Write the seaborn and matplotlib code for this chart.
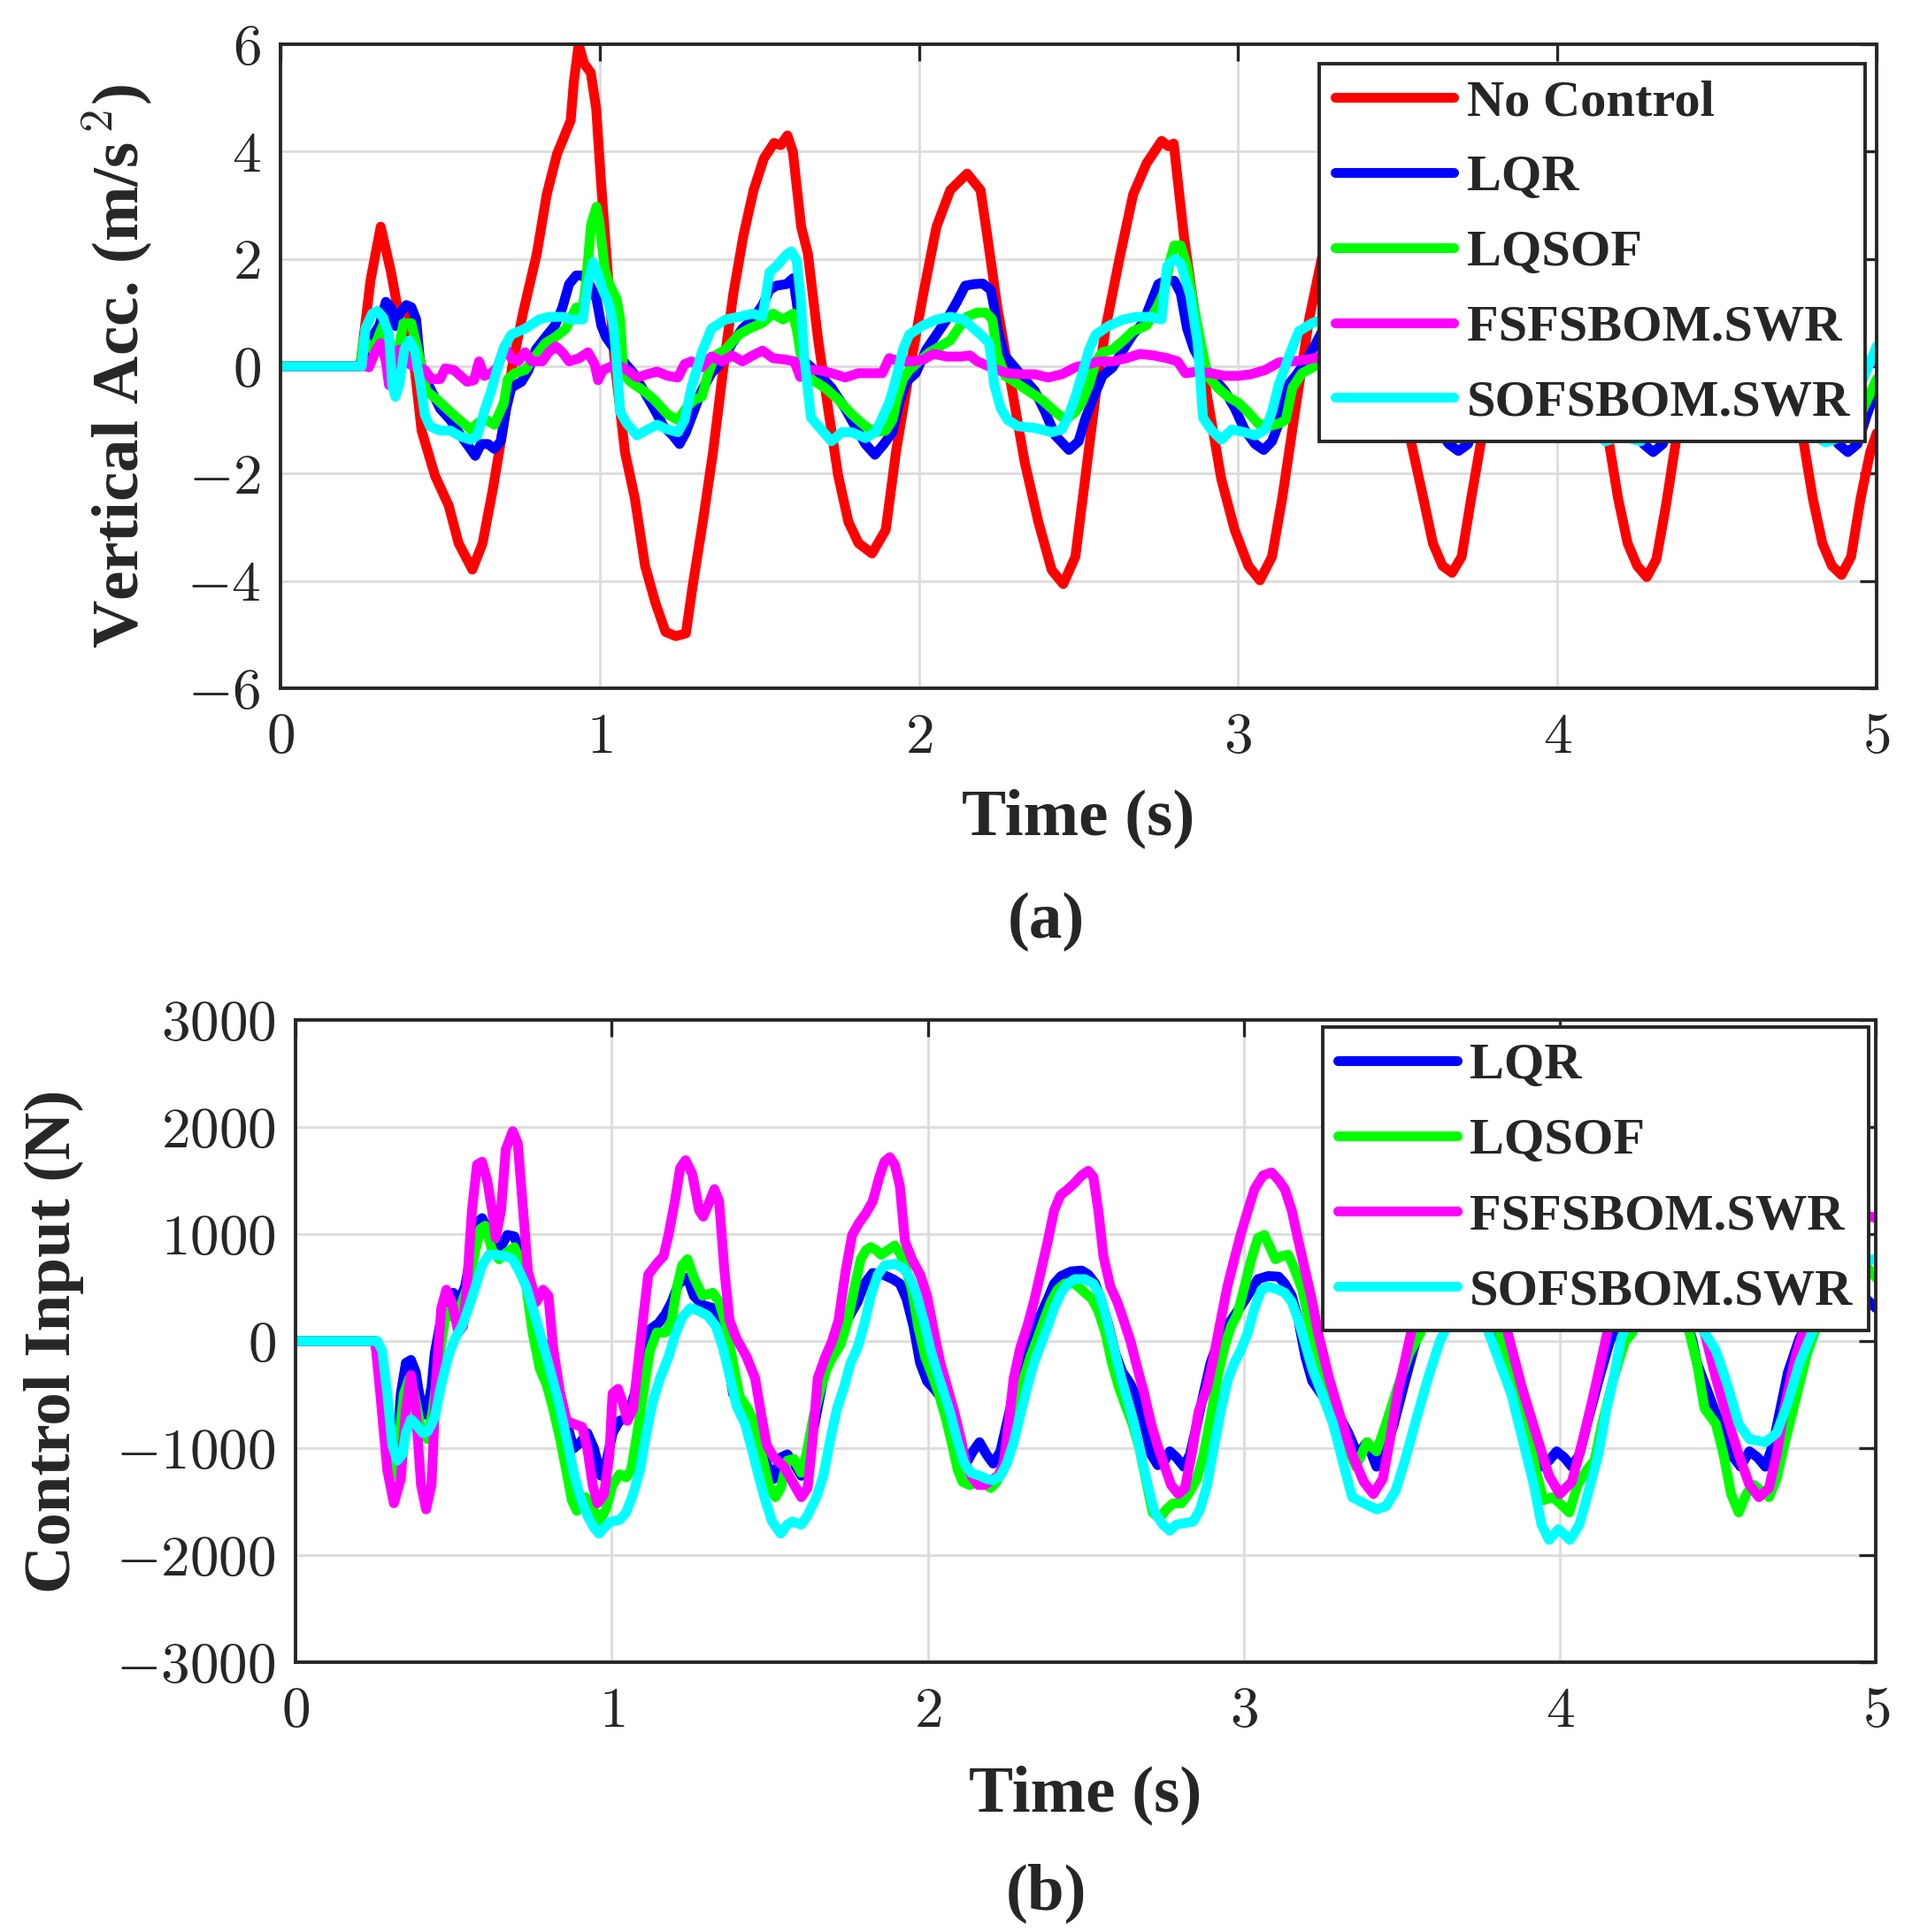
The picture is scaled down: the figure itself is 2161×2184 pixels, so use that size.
import matplotlib
matplotlib.use("Agg")
import matplotlib.pyplot as plt
import numpy as np
import pandas as pd
import seaborn as sns
from matplotlib.ticker import FuncFormatter

# (time s, vertical acceleration m/s^2)
acc_nocontrol = [(0, 0), (0.25, 0), (0.282, 1.6), (0.314, 2.6), (0.346, 1.76), (0.367, 1.08), (0.399, 1.1),
    (0.442, -1.2), (0.484, -2.04), (0.527, -2.6), (0.558, -3.3), (0.601, -3.79), (0.633, -3.3), (0.665, -2.3),
    (0.696, -1.2), (0.728, 0.07), (0.76, 1.0), (0.803, 2.1), (0.834, 3.2), (0.866, 3.95), (0.909, 4.58),
    (0.919, 5.3), (0.934, 6.0), (0.951, 5.64), (0.972, 5.47), (0.989, 4.8), (1.004, 3.44), (1.025, 1.76),
    (1.047, 0.07), (1.079, -1.6), (1.11, -2.46), (1.142, -3.72), (1.174, -4.4), (1.206, -4.95), (1.238, -5.03),
    (1.27, -4.98), (1.291, -4.1), (1.323, -2.9), (1.355, -1.6), (1.386, -0.1), (1.418, 1.33), (1.45, 2.43),
    (1.482, 3.28), (1.514, 3.87), (1.546, 4.16), (1.567, 4.12), (1.588, 4.3), (1.605, 4.0), (1.631, 2.6),
    (1.652, 2.1), (1.684, 0.5), (1.715, -0.77), (1.747, -2.04), (1.779, -2.9), (1.811, -3.3), (1.853, -3.49),
    (1.896, -3.05), (1.928, -1.6), (1.97, -0.1), (2.013, 1.33), (2.055, 2.6), (2.098, 3.28), (2.151, 3.59),
    (2.193, 3.28), (2.214, 2.43), (2.246, 1.08), (2.289, -0.35), (2.331, -1.78), (2.374, -2.9), (2.416, -3.8),
    (2.452, -4.06), (2.49, -3.55), (2.522, -2.04), (2.554, -0.52), (2.586, 0.75), (2.628, 2.0), (2.671, 3.2),
    (2.713, 3.78), (2.76, 4.2), (2.781, 4.1), (2.798, 4.15), (2.83, 2.43), (2.862, 1.08), (2.904, -0.6),
    (2.947, -2.1), (2.989, -3.05), (3.032, -3.72), (3.068, -3.99), (3.106, -3.55), (3.138, -2.46), (3.18, -0.77),
    (3.223, 0.9), (3.265, 2.1), (3.3, 3.0), (3.35, 3.8), (3.4, 4.1), (3.43, 3.9), (3.47, 1.8), (3.54, -1.37),
    (3.58, -2.46), (3.61, -3.3), (3.64, -3.72), (3.67, -3.85), (3.70, -3.55), (3.73, -2.46), (3.76, -1.43),
    (3.82, 1.0), (3.9, 3.5), (3.97, 4.1), (4.03, 3.8), (4.1, 0.5), (4.16, -1.37), (4.19, -2.46), (4.22, -3.3),
    (4.25, -3.72), (4.28, -3.93), (4.31, -3.6), (4.34, -2.6), (4.37, -1.45), (4.45, 1.5), (4.52, 3.6),
    (4.58, 4.1), (4.64, 3.5), (4.72, 0.2), (4.77, -1.37), (4.80, -2.46), (4.83, -3.3), (4.86, -3.72),
    (4.89, -3.89), (4.92, -3.55), (4.95, -2.46), (4.98, -1.6), (5.0, -1.25)]

acc_lqr = [(0, 0), (0.245, 0), (0.287, 0.54), (0.31, 0.76), (0.33, 1.2), (0.346, 1.09), (0.36, 0.75),
    (0.375, 1.0), (0.394, 1.14), (0.41, 1.1), (0.425, 0.87), (0.436, 0.15), (0.45, -0.24), (0.468, -0.4),
    (0.5, -0.79), (0.532, -1.0), (0.564, -1.29), (0.59, -1.5), (0.61, -1.67), (0.628, -1.45), (0.65, -1.45),
    (0.67, -1.54), (0.69, -1.4), (0.707, -0.79), (0.723, -0.4), (0.755, -0.29), (0.777, -0.07), (0.8, 0.31),
    (0.83, 0.54), (0.86, 0.76), (0.883, 1.09), (0.904, 1.53), (0.926, 1.69), (0.947, 1.69), (0.968, 1.53),
    (0.99, 1.25), (1.005, 0.76), (1.02, 0.54), (1.04, 0.37), (1.074, 0.09), (1.106, -0.13), (1.138, -0.46),
    (1.17, -0.79), (1.2, -1.12), (1.229, -1.29), (1.25, -1.45), (1.27, -1.23), (1.298, -0.79), (1.319, -0.46),
    (1.35, -0.13), (1.383, 0.09), (1.415, 0.43), (1.447, 0.7), (1.479, 0.87), (1.51, 1.14), (1.532, 1.42),
    (1.553, 1.5), (1.585, 1.53), (1.606, 1.64), (1.622, 0.98), (1.641, 0.09), (1.684, -0.13), (1.726, -0.4),
    (1.769, -0.79), (1.8, -1.12), (1.832, -1.45), (1.862, -1.65), (1.89, -1.45), (1.917, -1.23), (1.938, -0.68),
    (1.96, -0.29), (1.99, -0.13), (2.023, 0.31), (2.055, 0.59), (2.087, 0.87), (2.119, 1.2), (2.145, 1.5),
    (2.172, 1.53), (2.2, 1.54), (2.225, 1.42), (2.236, 1.09), (2.246, 0.7), (2.268, 0.2), (2.3, -0.02),
    (2.33, -0.24), (2.363, -0.46), (2.395, -0.85), (2.427, -1.29), (2.47, -1.56), (2.5, -1.4), (2.52, -1.0),
    (2.54, -0.68), (2.575, -0.18), (2.607, -0.02), (2.64, 0.31), (2.67, 0.59), (2.703, 0.81), (2.724, 1.14),
    (2.75, 1.53), (2.777, 1.61), (2.8, 1.59), (2.82, 1.36), (2.84, 0.7), (2.862, 0.31), (2.894, -0.02),
    (2.926, -0.24), (2.958, -0.46), (2.99, -0.79), (3.02, -1.18), (3.053, -1.45), (3.08, -1.56), (3.106, -1.4),
    (3.127, -1.07), (3.149, -0.4), (3.18, -0.18), (3.212, 0.09), (3.244, 0.43), (3.263, 0.65), (3.3, 1.0),
    (3.36, 1.5), (3.4, 1.55), (3.44, 0.7), (3.5, 0.0), (3.56, -0.5), (3.62, -1.1), (3.66, -1.45), (3.69, -1.58),
    (3.72, -1.45), (3.76, -0.8), (3.82, 0.0), (3.9, 0.8), (3.97, 1.5), (4.02, 1.55), (4.06, 0.6), (4.12, -0.1),
    (4.2, -0.8), (4.27, -1.45), (4.3, -1.6), (4.33, -1.45), (4.38, -0.7), (4.45, 0.2), (4.52, 0.9), (4.58, 1.5),
    (4.63, 1.55), (4.67, 0.6), (4.74, -0.1), (4.82, -0.8), (4.88, -1.45), (4.91, -1.6), (4.94, -1.45),
    (4.97, -0.9), (5.0, -0.4)]

acc_lqsof = [(0, 0), (0.25, 0), (0.26, 0.5), (0.29, 0.3), (0.32, 0.75), (0.345, 0.2), (0.365, 0.15),
    (0.385, 0.8), (0.41, 0.8), (0.43, 0.3), (0.457, -0.46), (0.49, -0.62), (0.53, -0.84), (0.56, -1.0),
    (0.596, -1.18), (0.62, -1.05), (0.645, -1.0), (0.67, -1.09), (0.7, -0.68), (0.712, -0.24), (0.734, -0.13),
    (0.766, -0.07), (0.8, 0.2), (0.83, 0.43), (0.86, 0.54), (0.894, 0.7), (0.926, 1.09), (0.947, 1.09),
    (0.957, 1.53), (0.973, 2.64), (0.99, 2.97), (1.0, 2.64), (1.016, 1.8), (1.03, 1.53), (1.053, 1.25),
    (1.064, 0.87), (1.074, -0.13), (1.096, -0.29), (1.138, -0.46), (1.17, -0.62), (1.213, -0.9), (1.245, -1.0),
    (1.277, -0.73), (1.298, -0.62), (1.32, -0.57), (1.34, -0.13), (1.362, 0.2), (1.394, 0.31), (1.436, 0.59),
    (1.468, 0.7), (1.51, 0.81), (1.543, 0.98), (1.574, 0.87), (1.606, 0.98), (1.62, 0.6), (1.63, 0.2),
    (1.662, -0.24), (1.705, -0.4), (1.747, -0.62), (1.79, -0.9), (1.832, -1.12), (1.864, -1.23), (1.896, -1.2),
    (1.917, -1.0), (1.933, -0.57), (1.95, -0.24), (1.97, -0.07), (2.0, 0.09), (2.034, 0.26), (2.066, 0.37),
    (2.098, 0.48), (2.13, 0.76), (2.15, 0.92), (2.183, 1.0), (2.21, 1.0), (2.23, 0.87), (2.246, 0.2),
    (2.27, -0.18), (2.3, -0.29), (2.342, -0.46), (2.384, -0.62), (2.427, -0.85), (2.459, -1.0), (2.49, -0.85),
    (2.51, -0.68), (2.533, -0.35), (2.554, 0.09), (2.575, 0.26), (2.607, 0.31), (2.64, 0.48), (2.67, 0.65),
    (2.713, 0.76), (2.745, 1.09), (2.766, 1.36), (2.787, 1.97), (2.8, 2.25), (2.82, 2.25), (2.84, 1.86),
    (2.862, 1.09), (2.883, 0.43), (2.904, -0.18), (2.936, -0.4), (2.968, -0.57), (3.0, -0.68), (3.03, -0.85),
    (3.063, -1.07), (3.095, -1.12), (3.127, -1.07), (3.149, -1.0), (3.17, -0.4), (3.2, -0.13), (3.234, -0.02),
    (3.263, 0.09), (3.32, 0.5), (3.38, 0.9), (3.43, 1.0), (3.46, 0.2), (3.52, -0.3), (3.6, -0.7), (3.68, -1.1),
    (3.74, -0.9), (3.8, -0.1), (3.88, 0.4), (3.96, 1.0), (4.02, 2.0), (4.06, 0.8), (4.1, -0.2), (4.2, -0.7),
    (4.29, -1.1), (4.35, -0.9), (4.42, 0.0), (4.5, 0.5), (4.58, 1.0), (4.64, 2.0), (4.68, 0.8), (4.72, -0.2),
    (4.8, -0.6), (4.9, -1.1), (4.95, -0.9), (5.0, -0.24)]

acc_fsf = [(0, 0), (0.265, 0), (0.277, -0.02), (0.3, 0.31), (0.314, 0.43), (0.33, 0.1), (0.34, -0.35),
    (0.355, -0.3), (0.372, 0.31), (0.385, 0.25), (0.404, 0.04), (0.425, -0.02), (0.452, -0.07), (0.473, -0.24),
    (0.5, -0.24), (0.516, -0.04), (0.543, -0.07), (0.564, -0.18), (0.585, -0.29), (0.606, -0.26), (0.622, 0.09),
    (0.638, -0.18), (0.66, -0.13), (0.68, -0.02), (0.702, 0.37), (0.723, 0.15), (0.745, 0.09), (0.766, 0.26),
    (0.787, 0.09), (0.82, 0.09), (0.84, 0.26), (0.862, 0.37), (0.883, 0.26), (0.904, 0.09), (0.936, 0.15),
    (0.963, 0.26), (0.984, 0.04), (0.995, -0.26), (1.01, -0.07), (1.03, -0.02), (1.053, 0.04), (1.085, -0.07),
    (1.117, -0.21), (1.149, -0.15), (1.18, -0.1), (1.213, -0.18), (1.245, -0.21), (1.266, 0.04), (1.287, 0.09),
    (1.32, -0.02), (1.35, 0.18), (1.383, 0.09), (1.415, 0.2), (1.447, 0.09), (1.479, 0.2), (1.51, 0.29),
    (1.543, 0.15), (1.585, 0.12), (1.61, 0.09), (1.628, -0.2), (1.65, -0.07), (1.684, -0.07), (1.726, -0.13),
    (1.769, -0.21), (1.81, -0.13), (1.853, -0.13), (1.885, -0.13), (1.907, 0.15), (1.938, 0.09), (1.98, 0.09),
    (2.013, 0.12), (2.045, 0.23), (2.087, 0.18), (2.13, 0.18), (2.16, 0.2), (2.183, 0.09), (2.214, 0.01),
    (2.246, -0.07), (2.278, -0.13), (2.32, -0.15), (2.363, -0.15), (2.405, -0.21), (2.448, -0.15), (2.49, -0.02),
    (2.533, 0.04), (2.565, 0.09), (2.607, 0.09), (2.65, 0.15), (2.692, 0.23), (2.735, 0.2), (2.777, 0.15),
    (2.81, 0.09), (2.835, -0.13), (2.873, -0.1), (2.915, -0.13), (2.958, -0.18), (3.0, -0.18), (3.04, -0.15),
    (3.085, -0.07), (3.127, 0.07), (3.17, 0.09), (3.212, 0.12), (3.263, 0.18), (3.33, 0.2), (3.4, 0.15),
    (3.45, -0.1), (3.52, -0.15), (3.6, -0.2), (3.68, -0.1), (3.75, 0.05), (3.82, 0.15), (3.9, 0.2), (3.98, 0.15),
    (4.05, -0.1), (4.12, -0.15), (4.2, -0.2), (4.3, -0.1), (4.38, 0.05), (4.45, 0.15), (4.55, 0.2), (4.62, 0.1),
    (4.68, -0.1), (4.75, -0.15), (4.85, -0.2), (4.92, -0.05), (5.0, 0.09)]

acc_sof = [(0, 0), (0.255, 0), (0.266, 0.7), (0.287, 0.98), (0.303, 1.03), (0.32, 0.92), (0.34, 0.59),
    (0.35, -0.35), (0.36, -0.57), (0.372, -0.35), (0.388, 0.31), (0.404, 0.48), (0.42, 0.31), (0.436, -0.24),
    (0.452, -0.9), (0.468, -1.12), (0.5, -1.2), (0.532, -1.2), (0.564, -1.31), (0.596, -1.37), (0.617, -1.29),
    (0.638, -0.85), (0.66, -0.46), (0.68, -0.02), (0.702, 0.37), (0.723, 0.59), (0.766, 0.7), (0.81, 0.87),
    (0.84, 0.92), (0.883, 0.92), (0.915, 0.87), (0.947, 0.87), (0.963, 1.53), (0.979, 1.94), (0.995, 1.7),
    (1.01, 1.42), (1.03, 1.14), (1.043, 0.76), (1.053, 0.09), (1.064, -0.85), (1.085, -1.07), (1.117, -1.29),
    (1.15, -1.18), (1.18, -1.09), (1.213, -1.18), (1.245, -1.23), (1.266, -1.0), (1.287, -0.4), (1.32, 0.26),
    (1.35, 0.7), (1.394, 0.87), (1.436, 0.92), (1.479, 0.98), (1.51, 0.92), (1.532, 1.75), (1.553, 1.86),
    (1.585, 2.08), (1.6, 2.14), (1.617, 1.97), (1.63, 1.25), (1.64, 0.2), (1.662, -0.96), (1.694, -1.18),
    (1.726, -1.4), (1.758, -1.23), (1.79, -1.23), (1.832, -1.34), (1.864, -1.23), (1.885, -0.96), (1.907, -0.68),
    (1.928, -0.24), (1.95, 0.31), (1.97, 0.59), (2.013, 0.76), (2.055, 0.87), (2.098, 0.92), (2.14, 0.87),
    (2.16, 0.76), (2.193, 0.59), (2.22, 0.43), (2.236, -0.35), (2.257, -0.79), (2.278, -1.0), (2.31, -1.12),
    (2.363, -1.15), (2.416, -1.23), (2.448, -1.18), (2.47, -0.9), (2.49, -0.57), (2.512, -0.13), (2.533, 0.31),
    (2.554, 0.59), (2.597, 0.76), (2.64, 0.87), (2.68, 0.92), (2.724, 0.92), (2.76, 0.87), (2.777, 1.86),
    (2.8, 2.0), (2.82, 1.92), (2.85, 1.31), (2.873, 0.43), (2.89, -0.96), (2.915, -1.18), (2.947, -1.37),
    (2.98, -1.18), (3.02, -1.23), (3.053, -1.29), (3.085, -1.18), (3.106, -0.85), (3.127, -0.35), (3.16, 0.2),
    (3.19, 0.65), (3.234, 0.81), (3.263, 0.87), (3.33, 0.9), (3.38, 0.9), (3.4, 1.9), (3.43, 2.0), (3.47, 1.3),
    (3.5, -0.9), (3.55, -1.2), (3.6, -1.35), (3.66, -1.2), (3.7, -0.3), (3.75, 0.6), (3.82, 0.85), (3.93, 0.9),
    (3.99, 0.9), (4.01, 1.9), (4.04, 2.0), (4.08, 1.3), (4.11, -0.9), (4.15, -1.4), (4.2, -1.3), (4.26, -1.4),
    (4.3, -1.2), (4.34, -0.3), (4.4, 0.6), (4.48, 0.85), (4.58, 0.9), (4.62, 1.9), (4.65, 2.0), (4.69, 1.3),
    (4.72, -0.9), (4.78, -1.2), (4.84, -1.42), (4.9, -1.3), (4.94, -0.5), (5.0, 0.37)]

# (time s, control force N)
u_lqr = [(0, 0), (0.252, 0), (0.279, -632), (0.3, -1003), (0.317, -1145), (0.333, -490), (0.349, -205),
    (0.365, -177), (0.38, -291), (0.397, -604), (0.413, -689), (0.43, -433), (0.44, -120), (0.456, 137),
    (0.477, 422), (0.499, 450), (0.515, 365), (0.536, 507), (0.558, 849), (0.574, 1105), (0.59, 1148),
    (0.606, 1048), (0.627, 849), (0.649, 877), (0.67, 991), (0.692, 977), (0.708, 849), (0.73, 593), (0.75, 308),
    (0.778, -6), (0.8, -63), (0.815, -262), (0.837, -490), (0.858, -775), (0.88, -1003), (0.901, -946),
    (0.923, -860), (0.944, -1003), (0.966, -1259), (0.982, -1145), (1.003, -860), (1.025, -746), (1.05, -718),
    (1.073, -490), (1.1, -63), (1.121, 108), (1.148, 165), (1.17, 251), (1.19, 365), (1.212, 536), (1.24, 593),
    (1.26, 422), (1.288, 336), (1.32, 308), (1.34, 194), (1.363, -91), (1.384, -490), (1.416, -632),
    (1.44, -718), (1.47, -917), (1.49, -1145), (1.513, -1288), (1.535, -1088), (1.556, -1060), (1.577, -1145),
    (1.6, -1259), (1.62, -1060), (1.642, -775), (1.67, -348), (1.69, -148), (1.713, -6), (1.745, 194),
    (1.778, 365), (1.8, 536), (1.826, 635), (1.858, 621), (1.89, 578), (1.912, 536), (1.933, 393), (1.955, 137),
    (1.976, -205), (1.998, -376), (2.02, -447), (2.04, -519), (2.062, -661), (2.084, -832), (2.105, -1003),
    (2.127, -1117), (2.143, -1031), (2.164, -946), (2.186, -1060), (2.207, -1145), (2.23, -1031), (2.25, -775),
    (2.272, -490), (2.293, -205), (2.315, -34), (2.336, 108), (2.358, 251), (2.38, 393), (2.4, 536), (2.422, 607),
    (2.454, 650), (2.487, 658), (2.508, 621), (2.53, 536), (2.55, 365), (2.573, 137), (2.594, -120),
    (2.616, -291), (2.642, -405), (2.664, -547), (2.685, -775), (2.707, -1060), (2.728, -1160), (2.75, -1117),
    (2.766, -1031), (2.787, -1088), (2.81, -1174), (2.83, -1060), (2.852, -775), (2.873, -490), (2.895, -205),
    (2.916, -34), (2.938, 108), (2.96, 194), (2.98, 279), (3.0, 365), (3.024, 479), (3.045, 578), (3.077, 607),
    (3.11, 601), (3.13, 536), (3.152, 422), (3.173, 194), (3.195, -148), (3.217, -376), (3.244, -490),
    (3.265, -575), (3.295, -661), (3.331, -860), (3.36, -1060), (3.39, -946), (3.42, -1174), (3.45, -1003),
    (3.475, -775), (3.51, -376), (3.547, 23), (3.6, 350), (3.66, 600), (3.72, 620), (3.76, 400), (3.8, 100),
    (3.85, -250), (3.88, -490), (3.918, -917), (3.94, -1174), (3.966, -1117), (3.99, -1031), (4.014, -1088),
    (4.038, -1174), (4.062, -1060), (4.086, -775), (4.122, -376), (4.158, -6), (4.22, 350), (4.28, 600),
    (4.34, 620), (4.38, 400), (4.42, 0), (4.434, -205), (4.47, -490), (4.506, -775), (4.542, -1060),
    (4.572, -1174), (4.6, -1031), (4.626, -1088), (4.65, -1174), (4.674, -974), (4.698, -632), (4.722, -291),
    (4.758, 23), (4.82, 350), (4.88, 580), (4.95, 450), (5.0, 308)]

u_lqsof = [(0, 0), (0.252, 0), (0.284, -718), (0.311, -1259), (0.327, -917), (0.343, -490), (0.36, -348),
    (0.375, -490), (0.402, -889), (0.418, -917), (0.435, -632), (0.456, -120), (0.477, 279), (0.499, 222),
    (0.52, 308), (0.547, 536), (0.569, 849), (0.585, 1048), (0.6, 1077), (0.622, 849), (0.644, 764), (0.665, 821),
    (0.692, 877), (0.708, 764), (0.73, 507), (0.75, 80), (0.773, -262), (0.794, -405), (0.815, -632),
    (0.837, -917), (0.858, -1231), (0.874, -1487), (0.89, -1587), (0.917, -1459), (0.938, -1544), (0.96, -1687),
    (0.982, -1573), (1.003, -1345), (1.025, -1245), (1.046, -1274), (1.062, -1202), (1.078, -917), (1.1, -490),
    (1.121, -91), (1.143, 80), (1.17, 80), (1.19, 194), (1.207, 507), (1.223, 707), (1.24, 764), (1.26, 593),
    (1.288, 422), (1.32, 450), (1.34, 365), (1.363, 137), (1.384, -205), (1.405, -519), (1.43, -632),
    (1.454, -775), (1.475, -1060), (1.497, -1345), (1.518, -1459), (1.535, -1373), (1.556, -1117),
    (1.577, -1103), (1.6, -1231), (1.616, -1060), (1.638, -718), (1.66, -462), (1.68, -262), (1.7, -148),
    (1.724, -34), (1.745, 165), (1.767, 479), (1.788, 764), (1.805, 849), (1.82, 877), (1.837, 849), (1.853, 806),
    (1.874, 849), (1.896, 892), (1.912, 821), (1.928, 707), (1.95, 479), (1.97, 137), (1.992, -148),
    (2.014, -319), (2.035, -490), (2.057, -718), (2.078, -974), (2.095, -1202), (2.11, -1316), (2.132, -1345),
    (2.164, -1316), (2.186, -1345), (2.2, -1373), (2.218, -1316), (2.24, -1174), (2.26, -917), (2.282, -604),
    (2.304, -348), (2.325, -148), (2.347, 23), (2.368, 194), (2.39, 365), (2.411, 479), (2.433, 536),
    (2.465, 536), (2.487, 479), (2.52, 393), (2.54, 279), (2.562, 80), (2.583, -205), (2.605, -433),
    (2.626, -604), (2.648, -775), (2.67, -1003), (2.69, -1288), (2.712, -1601), (2.734, -1658), (2.755, -1573),
    (2.777, -1516), (2.803, -1516), (2.825, -1430), (2.852, -1288), (2.873, -1060), (2.895, -718), (2.916, -348),
    (2.938, -63), (2.96, 137), (2.98, 251), (3.0, 479), (3.024, 764), (3.045, 963), (3.065, 991), (3.083, 877),
    (3.1, 764), (3.12, 792), (3.14, 806), (3.16, 678), (3.185, 479), (3.206, 194), (3.228, -63), (3.25, -262),
    (3.283, -575), (3.307, -775), (3.33, -1003), (3.355, -1174), (3.39, -946), (3.42, -1031), (3.45, -775),
    (3.487, -433), (3.523, -120), (3.56, 80), (3.62, 500), (3.68, 850), (3.72, 700), (3.77, 300), (3.81, 80),
    (3.835, -205), (3.86, -462), (3.894, -775), (3.924, -1202), (3.948, -1487), (3.978, -1459), (4.0, -1516),
    (4.03, -1601), (4.056, -1345), (4.086, -1202), (4.11, -1117), (4.134, -775), (4.17, -348), (4.206, -6),
    (4.23, 80), (4.28, 550), (4.33, 900), (4.37, 700), (4.41, 80), (4.434, -205), (4.458, -632), (4.494, -775),
    (4.518, -1060), (4.542, -1430), (4.566, -1601), (4.59, -1430), (4.614, -1345), (4.638, -1402),
    (4.662, -1459), (4.686, -1288), (4.71, -974), (4.746, -547), (4.782, -120), (4.806, 80), (4.87, 500),
    (4.94, 800), (5.0, 593)]

u_fsf = [(0, 0), (0.252, 0), (0.268, -490), (0.29, -1202), (0.311, -1516), (0.333, -1288), (0.349, -632),
    (0.365, -319), (0.38, -632), (0.397, -1345), (0.413, -1573), (0.43, -1345), (0.445, -348), (0.461, 308),
    (0.477, 479), (0.494, 365), (0.515, 80), (0.53, 137), (0.542, 507), (0.558, 1219), (0.574, 1647),
    (0.59, 1675), (0.606, 1504), (0.622, 1219), (0.633, 963), (0.65, 1219), (0.665, 1789), (0.687, 1960),
    (0.703, 1846), (0.72, 1219), (0.735, 650), (0.762, 365), (0.783, 479), (0.8, 422), (0.815, -63),
    (0.837, -490), (0.858, -746), (0.88, -775), (0.907, -803), (0.923, -1003), (0.94, -1345), (0.955, -1516),
    (0.976, -1430), (0.993, -1060), (1.003, -490), (1.02, -447), (1.035, -575), (1.05, -746), (1.068, -632),
    (1.084, -205), (1.1, 222), (1.116, 621), (1.142, 721), (1.164, 792), (1.18, 991), (1.2, 1305), (1.217, 1618),
    (1.234, 1689), (1.255, 1561), (1.277, 1219), (1.29, 1162), (1.31, 1305), (1.325, 1419), (1.34, 1305),
    (1.357, 650), (1.373, 194), (1.395, 23), (1.427, -148), (1.454, -348), (1.475, -718), (1.491, -974),
    (1.513, -1088), (1.545, -1174), (1.572, -1316), (1.6, -1459), (1.62, -1373), (1.636, -917), (1.652, -348),
    (1.676, -148), (1.697, -6), (1.718, 194), (1.74, 650), (1.761, 991), (1.783, 1105), (1.804, 1191),
    (1.826, 1305), (1.847, 1533), (1.863, 1675), (1.88, 1718), (1.896, 1647), (1.912, 1447), (1.928, 934),
    (1.95, 764), (1.976, 621), (1.998, 422), (2.02, 80), (2.04, -205), (2.062, -433), (2.084, -661),
    (2.105, -917), (2.121, -1145), (2.137, -1259), (2.16, -1345), (2.18, -1345), (2.2, -1302), (2.223, -1259),
    (2.24, -1145), (2.256, -775), (2.272, -348), (2.293, -63), (2.315, 137), (2.336, 365), (2.358, 650),
    (2.38, 934), (2.4, 1219), (2.42, 1362), (2.444, 1419), (2.465, 1476), (2.487, 1547), (2.508, 1590),
    (2.524, 1533), (2.54, 1219), (2.556, 792), (2.578, 507), (2.6, 365), (2.62, 194), (2.642, -6), (2.664, -262),
    (2.685, -490), (2.707, -775), (2.727, -974), (2.75, -1174), (2.77, -1345), (2.793, -1430), (2.814, -1373),
    (2.835, -1060), (2.857, -661), (2.884, -433), (2.905, -148), (2.927, 194), (2.948, 507), (2.97, 764),
    (2.99, 991), (3.013, 1219), (3.034, 1419), (3.061, 1547), (3.088, 1575), (3.11, 1504), (3.13, 1419),
    (3.152, 1219), (3.173, 934), (3.195, 650), (3.217, 365), (3.235, 80), (3.27, -348), (3.307, -718),
    (3.343, -1060), (3.38, -1316), (3.41, -1430), (3.44, -1288), (3.463, -917), (3.487, -490), (3.523, -6),
    (3.58, 700), (3.65, 1300), (3.7, 1500), (3.75, 1200), (3.8, 500), (3.835, 80), (3.88, -433), (3.93, -917),
    (3.966, -1259), (4.0, -1430), (4.038, -1316), (4.074, -917), (4.11, -462), (4.146, 23), (4.2, 700),
    (4.27, 1300), (4.32, 1500), (4.37, 1200), (4.42, 500), (4.458, 80), (4.494, -348), (4.53, -718),
    (4.566, -1060), (4.6, -1345), (4.63, -1459), (4.662, -1373), (4.686, -1060), (4.71, -632), (4.746, -148),
    (4.77, 80), (4.85, 800), (4.93, 1200), (5.0, 1150)]

u_sof = [(0, 0), (0.258, 0), (0.274, -91), (0.29, -490), (0.306, -974), (0.322, -1117), (0.338, -1060),
    (0.349, -860), (0.365, -732), (0.38, -775), (0.402, -860), (0.418, -846), (0.44, -718), (0.461, -405),
    (0.483, -148), (0.504, 23), (0.526, 137), (0.547, 308), (0.569, 507), (0.59, 707), (0.612, 806), (0.633, 806),
    (0.665, 792), (0.687, 764), (0.708, 650), (0.73, 507), (0.75, 308), (0.773, 80), (0.794, -148), (0.815, -376),
    (0.837, -632), (0.858, -917), (0.88, -1231), (0.901, -1459), (0.923, -1630), (0.944, -1744), (0.96, -1800),
    (0.976, -1744), (0.998, -1687), (1.025, -1672), (1.046, -1601), (1.068, -1430), (1.09, -1202), (1.11, -860),
    (1.132, -547), (1.153, -348), (1.18, -148), (1.2, 51), (1.223, 222), (1.25, 308), (1.277, 279), (1.304, 236),
    (1.33, 137), (1.352, -63), (1.373, -319), (1.395, -604), (1.422, -775), (1.443, -1003), (1.465, -1259),
    (1.486, -1487), (1.508, -1687), (1.535, -1800), (1.556, -1715), (1.572, -1687), (1.6, -1715), (1.62, -1630),
    (1.648, -1459), (1.67, -1259), (1.69, -946), (1.713, -632), (1.735, -433), (1.756, -205), (1.778, -63),
    (1.8, 165), (1.82, 422), (1.842, 621), (1.864, 707), (1.896, 721), (1.923, 678), (1.944, 593), (1.966, 422),
    (1.987, 194), (2.01, -91), (2.03, -291), (2.052, -490), (2.073, -689), (2.095, -946), (2.116, -1145),
    (2.137, -1231), (2.164, -1259), (2.186, -1288), (2.207, -1302), (2.23, -1259), (2.25, -1145), (2.272, -946),
    (2.293, -689), (2.315, -433), (2.336, -205), (2.358, -34), (2.38, 137), (2.4, 308), (2.422, 450),
    (2.444, 536), (2.465, 578), (2.497, 578), (2.524, 536), (2.546, 422), (2.567, 194), (2.589, -63),
    (2.61, -319), (2.632, -547), (2.653, -775), (2.675, -1060), (2.696, -1345), (2.718, -1601), (2.744, -1715),
    (2.766, -1772), (2.787, -1715), (2.814, -1700), (2.84, -1687), (2.862, -1573), (2.884, -1345),
    (2.905, -1003), (2.927, -661), (2.948, -376), (2.97, -205), (2.99, -91), (3.013, 80), (3.034, 308),
    (3.056, 479), (3.077, 507), (3.11, 479), (3.13, 450), (3.152, 365), (3.173, 194), (3.195, -34),
    (3.217, -262), (3.247, -490), (3.283, -775), (3.32, -1202), (3.343, -1459), (3.38, -1516), (3.42, -1573),
    (3.45, -1544), (3.48, -1402), (3.51, -1117), (3.547, -718), (3.583, -348), (3.62, -6), (3.643, 137),
    (3.7, 450), (3.73, 500), (3.76, 300), (3.775, 80), (3.81, -205), (3.846, -490), (3.882, -917),
    (3.918, -1345), (3.942, -1715), (3.966, -1858), (3.996, -1758), (4.032, -1858), (4.062, -1715),
    (4.086, -1459), (4.122, -1060), (4.146, -661), (4.17, -348), (4.194, 23), (4.25, 400), (4.3, 550),
    (4.36, 500), (4.42, 250), (4.458, 80), (4.494, -91), (4.53, -405), (4.566, -775), (4.6, -917), (4.65, -946),
    (4.686, -860), (4.722, -575), (4.758, -205), (4.794, 51), (4.86, 450), (4.93, 750), (5.0, 763)]

labels_a = ["No Control", "LQR", "LQSOF", "FSFSBOM.SWR", "SOFSBOM.SWR"]
labels_b = ["LQR", "LQSOF", "FSFSBOM.SWR", "SOFSBOM.SWR"]
colors = {"No Control": "#ff0000", "LQR": "#0000ff", "LQSOF": "#00ff00",
          "FSFSBOM.SWR": "#ff00ff", "SOFSBOM.SWR": "#00ffff"}

sns.set_style("white")
plt.rcParams["font.family"] = ["Liberation Serif", "DejaVu Serif"]
plt.rcParams["mathtext.fontset"] = "cm"


def long_table(series, names):
    rows = []
    for name, pts in zip(names, series):
        for t, v in pts:
            rows.append((name, t, v))
    return pd.DataFrame(rows, columns=["series", "t", "v"])


df_a = long_table([acc_nocontrol, acc_lqr, acc_lqsof, acc_fsf, acc_sof], labels_a)
df_b = long_table([u_lqr, u_lqsof, u_fsf, u_sof], labels_b)

fig = plt.figure(figsize=(10.805, 10.92), dpi=200)
ax1 = fig.add_axes([0.1467, 0.6438, 0.8348, 0.3333])
ax2 = fig.add_axes([0.1546, 0.1397, 0.8265, 0.3324])

tick_fmt = FuncFormatter(lambda x, pos: "$%d$" % round(x))
spine_c = "#262626"
LW = 4.0


def style_axes(ax):
    ax.grid(True, color="#dcdcdc", linewidth=1.0)
    ax.set_axisbelow(True)
    for s in ax.spines.values():
        s.set_color(spine_c)
        s.set_linewidth(1.4)
    ax.tick_params(direction="in", length=7, width=1.2, top=True, right=True,
                   labelsize=23.5, colors=spine_c, labelcolor=spine_c)
    ax.tick_params(axis="x", pad=10)
    ax.tick_params(axis="y", pad=8)
    ax.xaxis.set_major_formatter(tick_fmt)
    ax.yaxis.set_major_formatter(tick_fmt)
    ax.set_xlim(0, 5)
    ax.set_xticks(range(0, 6))


for name in labels_a:
    sub = df_a[df_a.series == name]
    sns.lineplot(x=sub.t.values, y=sub.v.values, ax=ax1, color=colors[name], label=name,
                 linewidth=LW, estimator=None, sort=False)
for name in labels_b:
    sub = df_b[df_b.series == name]
    sns.lineplot(x=sub.t.values, y=sub.v.values, ax=ax2, color=colors[name], label=name,
                 linewidth=LW, estimator=None, sort=False)

style_axes(ax1)
style_axes(ax2)
ax1.set_ylim(-6, 6)
ax1.set_yticks(range(-6, 7, 2))
ax2.set_ylim(-3000, 3000)
ax2.set_yticks(range(-3000, 3001, 1000))

lab_kw = dict(fontsize=27, fontweight="bold", color=spine_c)
ax1.set_xlabel("Time (s)", **lab_kw)
ax1.set_ylabel("Vertical Acc. (m/s$^{\\,2}$)", **lab_kw)
ax2.set_xlabel("Time (s)", **lab_kw)
ax2.set_ylabel("Control Input (N)", **lab_kw)
ax1.xaxis.set_label_coords(0.5, -0.155)
ax2.xaxis.set_label_coords(0.5, -0.16)
ax1.yaxis.set_label_coords(-0.079, 0.5)
ax2.yaxis.set_label_coords(-0.134, 0.5)

leg_kw = dict(loc="upper right", handlelength=2.3, handletextpad=0.25,
              labelspacing=0.55, borderpad=0.3, borderaxespad=0, fancybox=False,
              framealpha=1, edgecolor=spine_c, prop={"weight": "bold", "size": 21})
l1 = ax1.legend(bbox_to_anchor=(0.993, 0.970), **leg_kw)
l2 = ax2.legend(bbox_to_anchor=(0.9955, 0.989), **leg_kw)
for leg in (l1, l2):
    leg.get_frame().set_linewidth(1.4)
    for ln in leg.get_lines():
        ln.set_linewidth(LW)

fig.text(0.547, 0.523, "(a)", ha="center", va="center", fontsize=27, fontweight="bold")
fig.text(0.547, 0.020, "(b)", ha="center", va="center", fontsize=27, fontweight="bold")

fig.savefig("out.png", dpi=200)
